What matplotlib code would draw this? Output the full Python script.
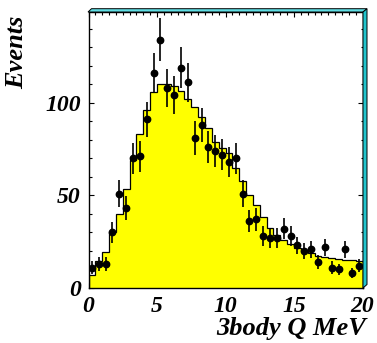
import numpy as np
import matplotlib
matplotlib.use("Agg")
import matplotlib.pyplot as plt
from matplotlib.patches import Polygon
from matplotlib.ticker import MultipleLocator

# ---- data ----
bin_edges = np.arange(0, 20.5, 0.5)
mc_values = [7, 14.5, 19.6, 30.4, 40.2, 53.6, 69, 83, 96, 105.6,
             110.4, 110.4, 108.8, 106.6, 102.2, 97.6, 92.2, 86.5, 78.6, 75.4,
             72.7, 64.6, 57.9, 50.2, 44.8, 38.5, 32.5, 28.5, 26, 24,
             21.5, 20, 18.7, 17.5, 16.8, 16.2, 15.6, 15.2, 15.0, 14.7]
data_counts = [11, 13, 13, 30, 51, 43, 70, 71, 91, 116,
               134, 108, 104, 119, 111, 81, 88, 76, 74, 72,
               68, 70, 51, 36, 37, 28, 27, 27, 32, 28,
               23, 20, 21, 14, 22, 11, 10, 21, 8, 12]
x_label = "3body Q MeV"
y_label = "Events"

W, H = 377, 343
fig = plt.figure(figsize=(W / 100, H / 100), dpi=100)

def fx(px):
    return px / W

def fy(py):
    return 1 - py / H

ax = fig.add_axes([fx(88.5), fy(288), fx(362.5) - fx(88.5), fy(12) - fy(288)])
ax.set_xlim(0, 20)
ax.set_ylim(0, 149)
ax.set_axisbelow(True)

mc = np.array(mc_values)
ax.stairs(mc, bin_edges, fill=True, color="#ffff00", zorder=1)
ax.stairs(mc, bin_edges, color="black", lw=0.9, zorder=1.5)

centers = 0.5 * (bin_edges[:-1] + bin_edges[1:])
counts = np.array(data_counts, dtype=float)
ax.errorbar(centers, counts, yerr=np.sqrt(counts), fmt="o", color="black",
            ms=4.6, elinewidth=1.2, capsize=0, zorder=3)

font = dict(family="Liberation Serif", weight="bold", style="italic")
ax.xaxis.set_major_locator(MultipleLocator(5))
ax.xaxis.set_minor_locator(MultipleLocator(0.5))
ax.yaxis.set_major_locator(MultipleLocator(50))
ax.yaxis.set_minor_locator(MultipleLocator(10))
ax.tick_params(which="both", direction="in", top=True, right=True,
               width=0.8, color="black")
ax.tick_params(which="major", length=3.8)
ax.tick_params(which="minor", length=1.8)
ax.tick_params(axis="x", which="major", pad=6.0)
ax.tick_params(axis="y", which="major", pad=5.5)
for lab in ax.get_xticklabels() + ax.get_yticklabels():
    lab.set_fontfamily(font["family"])
    lab.set_fontweight("bold")
    lab.set_fontstyle("italic")
    lab.set_fontsize(17)
for sp in ax.spines.values():
    sp.set_linewidth(1.0)

# ROOT-like 3D frame border
top_band = Polygon([(fx(88), fy(12)), (fx(91.5), fy(8.7)), (fx(367), fy(8.7)),
                    (fx(363), fy(12))], closed=True, transform=fig.transFigure,
                   facecolor="#60dde3", edgecolor="black", lw=0.7, zorder=5)
right_band = Polygon([(fx(363), fy(12)), (fx(367), fy(8.7)), (fx(367), fy(284.5)),
                      (fx(363), fy(288))], closed=True, transform=fig.transFigure,
                     facecolor="#22c4cc", edgecolor="black", lw=0.7, zorder=5)
fig.patches.extend([top_band, right_band])

fig.text(fx(17), fy(16), y_label, rotation=90, ha="center", va="top",
         fontsize=19, **font)
fig.text(fx(366), fy(335), x_label, ha="right", va="baseline",
         fontsize=19, **font)

fig.savefig("out.png", dpi=100)
